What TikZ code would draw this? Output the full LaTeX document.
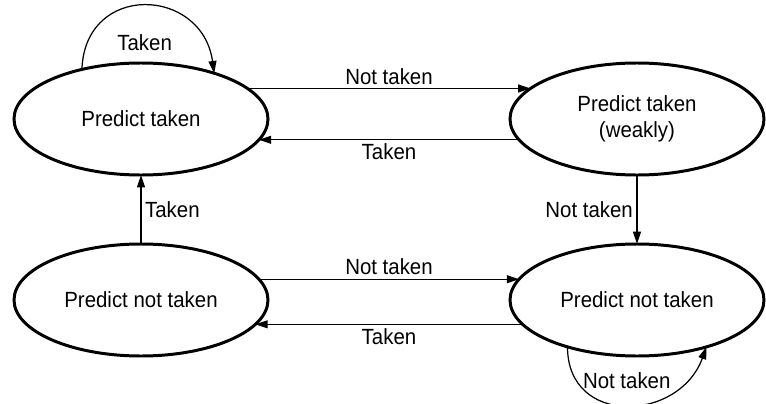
\documentclass[tikz,border=0pt]{standalone}
\usepackage{fontspec}
\setmainfont{Liberation Sans}[FakeStretch=0.93]
\usepackage{tikz}
\usepackage{tkz-graph}
\usetikzlibrary{arrows.meta,shapes.geometric}

\begin{document}
\begin{tikzpicture}[->, >={Triangle[length=7pt,width=4.5pt]},
    font=\fontsize{12.5}{15}\selectfont]
        \useasboundingbox (-2.82,2.38) rectangle (12.5,-5.70);
        \GraphInit[vstyle=Normal]
        \SetGraphUnit{9.92}
        \tikzset{VertexStyle/.style={shape=ellipse, draw, line width=1.7pt,
            minimum width=5.08cm, minimum height=2.24cm, inner sep=0pt,
            align=center}}
        \tikzset{EdgeStyle/.style={line width=0.7pt}}
        \tikzset{LabelStyle/.style={fill=none, inner sep=2pt}}

        \Vertex[L={Predict taken}]{st}
        \EA[L={Predict taken\\(weakly)}](st){wt}
        \SO[unit=3.62, L={Predict not taken}](st){wn}
        \EA[L={Predict not taken}](wn){sn}

        \Edge[label={Not taken}, labelstyle={above, inner sep=1pt}](st.16)(wt.164)
        \Edge[label={Taken}, labelstyle={below, inner sep=5.5pt}](wt.190)(st.350)
        \Edge[label={Not taken}, labelstyle={above, inner sep=3pt}](wn.10)(sn.170)
        \Edge[label={Taken}, labelstyle={below, inner sep=4pt}](sn.192)(wn.348)

        \Edge[label={Taken}, labelstyle={right, inner sep=5.5pt}](wn)(st)
        \Edge[label={Not taken}, labelstyle={left, inner sep=2.8pt}](wt)(sn)

        % the loops sit on the rim, so they are drawn as edges between two anchors
        \Edge[label={Taken}, labelstyle={below=14pt},
          style={out=88, in=98, distance=1.75cm}](st.140)(st.32)
        \Edge[label={Not taken}, labelstyle={above=7pt},
          style={out=270, in=250, distance=1.6cm}](sn.214)(sn.326)
      \end{tikzpicture}
\end{document}
